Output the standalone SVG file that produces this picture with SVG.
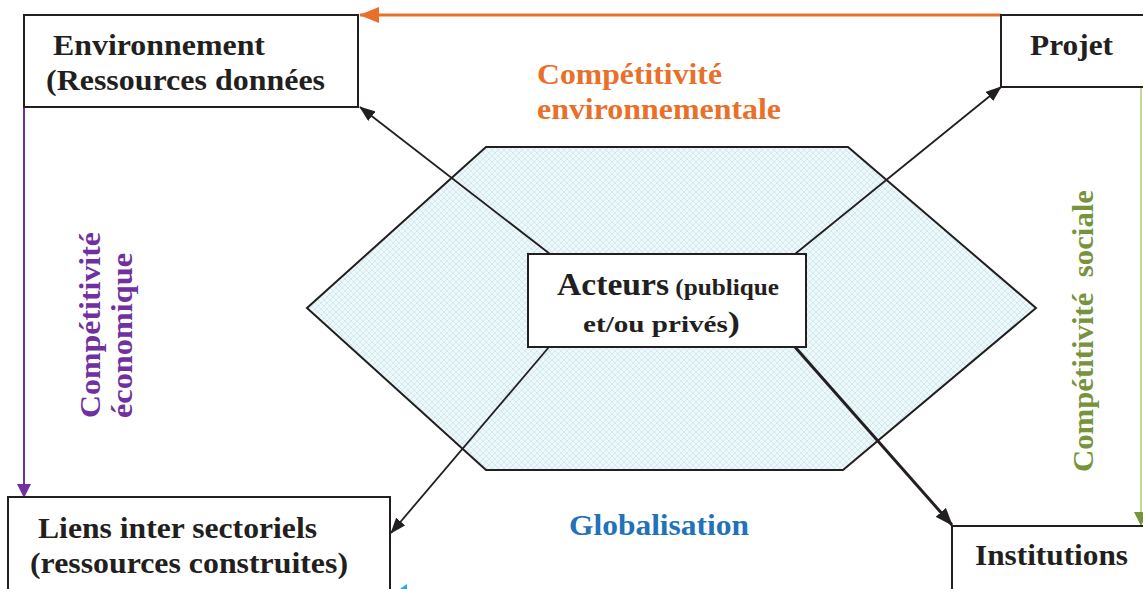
<svg xmlns="http://www.w3.org/2000/svg" width="1143" height="589" viewBox="0 0 1143 589">
<style>
.box{fill:#fff;stroke:#231F20;stroke-width:2}
text{font-family:'Liberation Serif',serif;font-weight:700;fill:#231F20}
.line{stroke:#231F20;stroke-width:1.8;fill:none}
</style>
<defs>
<pattern id="hatch" width="6" height="6" patternUnits="userSpaceOnUse">
<rect width="6" height="6" fill="#EEF8FA"/>
<path d="M0,0 L6,6 M6,0 L0,6" stroke="#CFEAF1" stroke-width="0.9"/>
</pattern>
<marker id="ab" viewBox="0 0 16 12" refX="15" refY="6" markerWidth="16" markerHeight="12" markerUnits="userSpaceOnUse" orient="auto">
<path d="M0,0 L16,6 L0,12 z" fill="#231F20"/>
</marker>
<marker id="ab2" viewBox="0 0 16 12" refX="15" refY="6" markerWidth="18" markerHeight="14" markerUnits="userSpaceOnUse" orient="auto">
<path d="M0,0 L16,6 L0,12 z" fill="#231F20"/>
</marker>
<marker id="ao" viewBox="0 0 20 16" refX="19" refY="8" markerWidth="20" markerHeight="16" markerUnits="userSpaceOnUse" orient="auto">
<path d="M0,0 L20,8 L0,16 z" fill="#E8702A"/>
</marker>
<marker id="ap" viewBox="0 0 14 14" refX="13" refY="7" markerWidth="14" markerHeight="14" markerUnits="userSpaceOnUse" orient="auto">
<path d="M0,0 L14,7 L0,14 z" fill="#7030A0"/>
</marker>
<marker id="ag" viewBox="0 0 14 14" refX="13" refY="7" markerWidth="14" markerHeight="14" markerUnits="userSpaceOnUse" orient="auto">
<path d="M0,0 L14,7 L0,14 z" fill="#77933C"/>
</marker>
</defs>

<g id="hexagone">
<polygon points="307,308 486,147 848,147 1036,308 843,470 486,470" fill="url(#hatch)" stroke="#231F20" stroke-width="2"/>
</g>

<g id="connecteurs">
<line x1="1001" y1="15" x2="360" y2="15" stroke="#E8702A" stroke-width="3" marker-end="url(#ao)"/>
<line x1="24" y1="107" x2="24" y2="497" stroke="#7030A0" stroke-width="2" marker-end="url(#ap)"/>
<line x1="1141" y1="87" x2="1141" y2="525" stroke="#C4D79B" stroke-width="2" marker-end="url(#ag)"/>
<line class="line" x1="550" y1="254" x2="360" y2="107" marker-end="url(#ab)"/>
<line class="line" x1="795" y1="254" x2="1001" y2="87" marker-end="url(#ab)"/>
<line class="line" x1="549" y1="347" x2="391" y2="533" marker-end="url(#ab)"/>
<line x1="795" y1="347" x2="952" y2="525" stroke="#231F20" stroke-width="3" marker-end="url(#ab2)"/>
<polygon points="400,589 407,584 407,589" fill="#1AAEE8"/>
</g>

<g id="environnement">
<rect class="box" x="24" y="15" width="334" height="92"/>
<text x="53" y="55" font-size="29" textLength="212" lengthAdjust="spacingAndGlyphs">Environnement</text>
<text x="46" y="90" font-size="29" textLength="279" lengthAdjust="spacingAndGlyphs">(Ressources données</text>
</g>

<g id="projet">
<rect class="box" x="1001" y="15" width="160" height="72"/>
<text x="1030" y="55" font-size="29" textLength="83" lengthAdjust="spacingAndGlyphs">Projet</text>
</g>

<g id="acteurs">
<rect class="box" x="528" y="254" width="278" height="93"/>
<text x="557" y="295" textLength="222" lengthAdjust="spacingAndGlyphs"><tspan font-size="32">Acteurs</tspan><tspan font-size="24"> (publique</tspan></text>
<text x="583" y="332" textLength="157" lengthAdjust="spacingAndGlyphs"><tspan font-size="24">et/ou privés</tspan><tspan font-size="30">)</tspan></text>
</g>

<g id="liens">
<rect class="box" x="8" y="497" width="382" height="110"/>
<text x="38" y="538" font-size="29" textLength="279" lengthAdjust="spacingAndGlyphs">Liens inter sectoriels</text>
<text x="30" y="573" font-size="29" textLength="318" lengthAdjust="spacingAndGlyphs">(ressources construites)</text>
</g>

<g id="institutions">
<rect class="box" x="952" y="526" width="210" height="80"/>
<text x="975" y="565" font-size="29" textLength="153" lengthAdjust="spacingAndGlyphs">Institutions</text>
</g>

<g id="labels">
<text x="537" y="84" font-size="29" style="fill:#E8702A" textLength="185" lengthAdjust="spacingAndGlyphs">Compétitivité</text>
<text x="537" y="119" font-size="29" style="fill:#E8702A" textLength="244" lengthAdjust="spacingAndGlyphs">environnementale</text>
<text x="569" y="535" font-size="29" style="fill:#2172B8" textLength="180" lengthAdjust="spacingAndGlyphs">Globalisation</text>
<text transform="translate(100,418) rotate(-90)" font-size="29" style="fill:#7030A0" textLength="186" lengthAdjust="spacingAndGlyphs">Compétitivité</text>
<text transform="translate(132,418) rotate(-90)" font-size="29" style="fill:#7030A0" textLength="165" lengthAdjust="spacingAndGlyphs">économique</text>
<text transform="translate(1093,472) rotate(-90)" font-size="29" style="fill:#77933C;white-space:pre" textLength="282" lengthAdjust="spacingAndGlyphs">Compétitivité  sociale</text>
</g>
</svg>
